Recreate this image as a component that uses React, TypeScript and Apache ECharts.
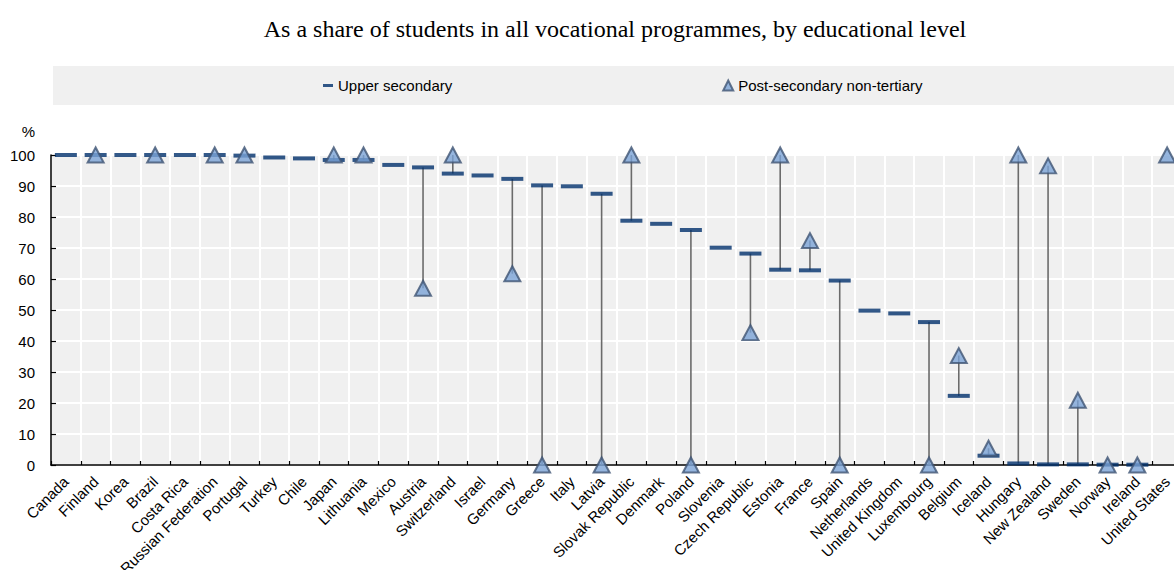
import React, { useEffect, useRef } from 'react';
import * as echarts from 'echarts';

const titleText = 'As a share of students in all vocational programmes, by educational level';

const countries = [
  'Canada', 'Finland', 'Korea', 'Brazil', 'Costa Rica', 'Russian Federation', 'Portugal', 'Turkey',
  'Chile', 'Japan', 'Lithuania', 'Mexico', 'Austria', 'Switzerland', 'Israel', 'Germany', 'Greece',
  'Italy', 'Latvia', 'Slovak Republic', 'Denmark', 'Poland', 'Slovenia', 'Czech Republic', 'Estonia',
  'France', 'Spain', 'Netherlands', 'United Kingdom', 'Luxembourg', 'Belgium', 'Iceland', 'Hungary',
  'New Zealand', 'Sweden', 'Norway', 'Ireland', 'United States',
];

const upperSecondary: (number | null)[] = [
  100, 100, 100, 100, 100, 100, 99.8, 99.2, 98.9, 98.4, 98.4, 96.8, 96.0, 94.0, 93.4, 92.3, 90.2,
  89.9, 87.5, 78.8, 77.8, 75.8, 70.1, 68.2, 63.0, 62.8, 59.5, 49.8, 48.9, 46.1, 22.3, 3.0, 0.5,
  0.2, 0.2, 0.1, 0.1, null,
];

const postSecondary: (number | null)[] = [
  null, 100, null, 100, null, 100, 100, null, null, 100, 100, null, 57, 100, null, 61.7, 0,
  null, 0, 100, null, 0, null, 42.7, 100, 72.4, 0, null, null, 0, 35.3, 5.4, 100,
  96.5, 20.9, 0, 0, 100,
];

const seriesNames = ['Upper secondary', 'Post-secondary non-tertiary'];

const SANS = '"Liberation Sans", Arial, sans-serif';

export default function App() {
  const ref = useRef<HTMLDivElement>(null);

  useEffect(() => {
    if (!ref.current) return;
    const chart = echarts.init(ref.current, null, { renderer: 'svg' });

    const links: number[][] = [];
    countries.forEach((_, i) => {
      const a = upperSecondary[i];
      const b = postSecondary[i];
      if (a != null && b != null) links.push([i, a, b]);
    });

    chart.setOption({
      animation: false,
      backgroundColor: '#ffffff',
      title: {
        text: titleText,
        left: 610,
        textAlign: 'center',
        top: 12,
        textStyle: {
          fontFamily: '"Liberation Serif", "Times New Roman", serif',
          fontSize: 24,
          fontWeight: 'normal',
          color: '#000000',
        },
      },
      graphic: [
        {
          type: 'rect',
          z: -10,
          shape: { x: 53, y: 66, width: 1140, height: 39 },
          style: { fill: '#f0f0f0' },
        },
      ],
      legend: {
        left: 318,
        top: 73,
        itemGap: 270,
        itemWidth: 10,
        itemHeight: 10,
        z: 10,
        textStyle: { fontFamily: SANS, fontSize: 15, color: '#000000' },
        data: [
          { name: seriesNames[0], icon: 'path://M0,0M0,10M0,3.5L10,3.5L10,6.5L0,6.5Z' },
          { name: seriesNames[1], icon: 'triangle' },
        ],
      },
      grid: {
        left: 51,
        top: 155,
        width: 1131,
        height: 310,
        show: true,
        backgroundColor: '#f0f0f0',
        borderWidth: 0,
        containLabel: false,
        outerBoundsMode: 'none',
      },
      xAxis: {
        type: 'category',
        data: countries,
        boundaryGap: true,
        axisLine: { show: true, lineStyle: { color: '#000000', width: 1.5 } },
        axisTick: { show: true, inside: true, length: 4, alignWithLabel: false, lineStyle: { color: '#000000', width: 1.2 } },
        splitLine: { show: true, interval: 0, lineStyle: { color: '#ffffff', width: 2 } },
        axisLabel: {
          interval: 0,
          rotate: 45,
          margin: 14,
          fontFamily: SANS,
          fontSize: 15,
          color: '#000000',
        },
      },
      yAxis: {
        type: 'value',
        min: 0,
        max: 100,
        interval: 10,
        name: '%',
        nameLocation: 'end',
        nameGap: 16,
        nameTextStyle: { fontFamily: SANS, fontSize: 15, color: '#000000', align: 'right', padding: [0, 16, 0, 0] },
        axisLine: { show: true, lineStyle: { color: '#000000', width: 1.5 } },
        axisTick: { show: true, inside: true, length: 5, lineStyle: { color: '#000000', width: 1.2 } },
        splitLine: { show: true, lineStyle: { color: '#ffffff', width: 2 } },
        axisLabel: { fontFamily: SANS, fontSize: 15, color: '#000000', margin: 16 },
      },
      series: [
        {
          type: 'custom',
          name: 'links',
          z: 1,
          silent: true,
          encode: { x: 0, y: [1, 2] },
          data: links,
          renderItem: (params: any, api: any) => {
            const p1 = api.coord([api.value(0), api.value(1)]);
            const p2 = api.coord([api.value(0), api.value(2)]);
            return {
              type: 'line',
              shape: { x1: p1[0], y1: p1[1], x2: p2[0], y2: p2[1] },
              style: { stroke: '#6b6b6b', lineWidth: 1.6 },
            };
          },
        },
        {
          type: 'scatter',
          name: seriesNames[0],
          z: 2,
          clip: false,
          symbol: 'rect',
          symbolSize: [22, 4],
          itemStyle: { color: '#002f6c' },
          data: upperSecondary,
        },
        {
          type: 'scatter',
          name: seriesNames[1],
          z: 3,
          clip: false,
          symbol: 'triangle',
          symbolSize: [16, 15],
          itemStyle: { color: '#7aa2d6', borderColor: '#3f5473', borderWidth: 2 },
          data: postSecondary,
        },
      ],
    });

    return () => chart.dispose();
  }, []);

  return (
    <div
      ref={ref}
      style={{ position: 'fixed', left: 0, top: 0, width: 1190, height: 570 }}
    />
  );
}
